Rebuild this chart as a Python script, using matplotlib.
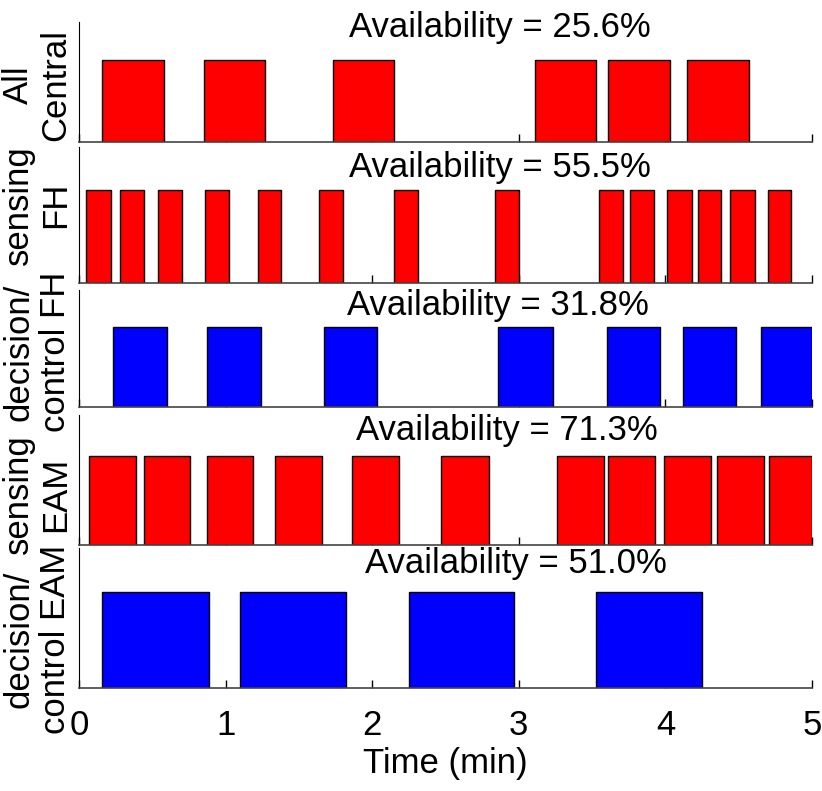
import matplotlib
matplotlib.use("Agg")
import matplotlib.pyplot as plt

plt.rcParams['font.family'] = ['Liberation Sans', 'DejaVu Sans']

# on-intervals (start, end) in minutes
central_on = [(0.16, 0.58), (0.85, 1.27), (1.73, 2.15), (3.11, 3.53), (3.61, 4.03), (4.15, 4.57)]
fh_sensing_on = [(0.05, 0.22), (0.28, 0.44), (0.54, 0.70), (0.86, 1.02), (1.22, 1.38),
                 (1.64, 1.80), (2.15, 2.31), (2.84, 3.00), (3.55, 3.71), (3.76, 3.92),
                 (4.01, 4.18), (4.22, 4.38), (4.44, 4.61), (4.70, 4.86)]
fh_control_on = [(0.23, 0.60), (0.87, 1.24), (1.67, 2.03), (2.86, 3.23), (3.60, 3.96),
                 (4.12, 4.48), (4.65, 5.00)]
eam_sensing_on = [(0.07, 0.39), (0.44, 0.76), (0.87, 1.19), (1.34, 1.66), (1.86, 2.18),
                  (2.47, 2.80), (3.26, 3.58), (3.61, 3.93), (3.99, 4.31), (4.35, 4.67),
                  (4.71, 5.00)]
eam_control_on = [(0.16, 0.89), (1.10, 1.82), (2.25, 2.97), (3.53, 4.25)]

availability = [25.6, 55.5, 31.8, 71.3, 51.0]
row_labels = ["All\nCentral", "sensing\nFH", "decision/\ncontrol FH",
              "sensing\nEAM", "decision/\ncontrol EAM"]
row_colors = ["#ff0000", "#ff0000", "#0000ff", "#ff0000", "#0000ff"]
intervals = [central_on, fh_sensing_on, fh_control_on, eam_sensing_on, eam_control_on]

W, H = 822, 791
fig = plt.figure(figsize=(W / 100, H / 100), dpi=100)

# axes boxes in pixels (top, bottom)
boxes = [(22, 142), (147, 283), (290, 407), (415, 545), (548, 688)]
x_left, x_right = 79, 812
title_x = [2.87, 2.87, 2.86, 2.92, 2.98]
title_y = [0.875, 0.778, 0.786, 0.81, 0.82]
label_y = [85, 205, 352, 494, 639]
ymax = 1.46

for i, (top, bot) in enumerate(boxes):
    ax = fig.add_axes([x_left / W, 1 - bot / H, (x_right - x_left) / W, (bot - top) / H])
    for s, e in intervals[i]:
        ax.bar(s, 1.0, width=e - s, align='edge', color=row_colors[i],
               edgecolor='black', linewidth=1.0, zorder=2)
    ax.set_xlim(0, 5)
    ax.set_ylim(0, ymax)
    ax.set_yticks([])
    ax.set_xticks(range(6))
    ax.set_axisbelow(True)
    ax.tick_params(axis='x', direction='in', length=6, width=1, pad=15, labelsize=25)
    for side in ['top', 'right']:
        ax.spines[side].set_visible(False)
    ax.spines['bottom'].set_color('#444444')
    ax.spines['bottom'].set_linewidth(1.2)
    ax.spines['left'].set_linewidth(0.8)
    if i < 4:
        ax.tick_params(axis='x', labelbottom=False)
    else:
        ax.set_xlabel("Time (min)", fontsize=25, labelpad=4)
    ax.text(title_x[i], title_y[i] * ymax, f"Availability = {availability[i]:.1f}%",
            fontsize=25, ha='center', va='baseline')
    fig.text(37 / W, 1 - label_y[i] / H, row_labels[i], rotation=90, fontsize=25,
             ha='center', va='center', linespacing=1.15)

fig.savefig("out.png", dpi=100)
